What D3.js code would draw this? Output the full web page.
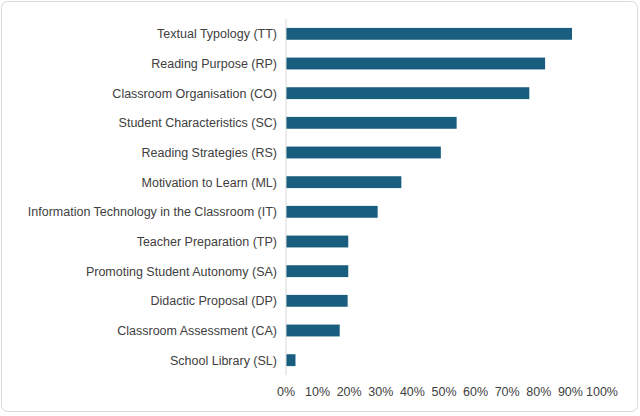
<!DOCTYPE html>
<html><head><meta charset="utf-8">
<script src="https://cdn.jsdelivr.net/npm/d3@7"></script>
<style>body{margin:0;background:#fff}</style>
</head><body>
<script>
var categories = ["Textual Typology (TT)","Reading Purpose (RP)","Classroom Organisation (CO)","Student Characteristics (SC)","Reading Strategies (RS)","Motivation to Learn (ML)","Information Technology in the Classroom (IT)","Teacher Preparation (TP)","Promoting Student Autonomy (SA)","Didactic Proposal (DP)","Classroom Assessment (CA)","School Library (SL)"];
var values = [0.905, 0.82, 0.77, 0.54, 0.49, 0.365, 0.29, 0.197, 0.197, 0.195, 0.17, 0.03];
var ticks = [0,0.1,0.2,0.3,0.4,0.5,0.6,0.7,0.8,0.9,1];

var svg = d3.select("body").append("svg").attr("width",640).attr("height",416);
svg.append("rect").attr("x",1.5).attr("y",1.5).attr("width",636).attr("height",410)
  .attr("rx",6).attr("fill","#fff").attr("stroke","#d9d9d9");

var x = d3.scaleLinear().domain([0,1]).range([286,602]);
var y = d3.scaleBand().domain(categories).range([19,375]).paddingInner(0.6).paddingOuter(0.3);

svg.selectAll(".bar").data(values).enter().append("rect")
  .attr("x",x(0)).attr("y",function(d,i){return y(categories[i]);})
  .attr("width",function(d){return x(d)-x(0);}).attr("height",y.bandwidth())
  .attr("fill","#195e7e");

svg.append("line").attr("x1",x(0)).attr("x2",x(0)).attr("y1",19).attr("y2",375).attr("stroke","#d9d9d9");

svg.selectAll(".lab").data(categories).enter().append("text")
  .attr("x",x(0)-9).attr("y",function(d){return y(d)+y.bandwidth()/2;})
  .attr("dy","0.35em").attr("text-anchor","end")
  .attr("font-family","Liberation Sans, Arial").attr("font-size",12.5).attr("fill","#404040")
  .text(function(d){return d;});

svg.selectAll(".tick").data(ticks).enter().append("text")
  .attr("x",function(d){return x(d);}).attr("y",396).attr("text-anchor","middle")
  .attr("font-family","Liberation Sans, Arial").attr("font-size",12.5).attr("fill","#404040")
  .text(d3.format(".0%"));
</script>
</body></html>
